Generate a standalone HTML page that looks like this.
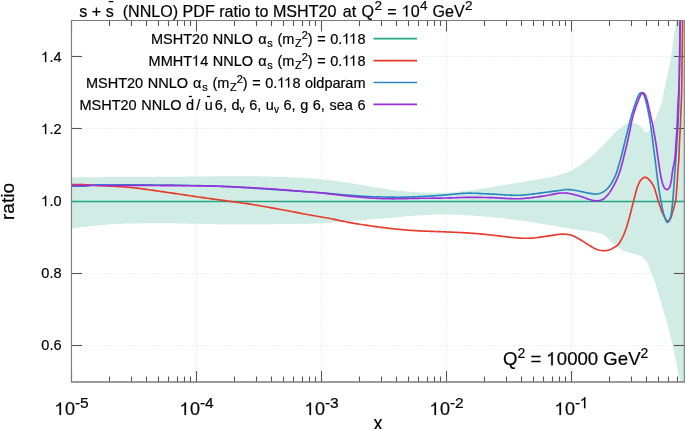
<!DOCTYPE html>
<html><head><meta charset="utf-8"><style>
html,body{margin:0;padding:0;background:#fff;}
svg{display:block;will-change:transform;}
.h1{fill:none;stroke:none;}
text{font-family:"Liberation Sans",sans-serif;fill:#000;stroke:#000;stroke-width:0.2px;}
</style></head><body>
<svg width="685" height="429" viewBox="0 0 685 429">
<defs><clipPath id="clip"><rect x="71.5" y="20.5" width="612.8" height="361.0"/></clipPath></defs>
<g stroke="#dedede" stroke-width="1" stroke-dasharray="1,2"><line x1="196.50" y1="20.5" x2="196.50" y2="381.5"/><line x1="321.50" y1="20.5" x2="321.50" y2="381.5"/><line x1="446.50" y1="20.5" x2="446.50" y2="381.5"/><line x1="571.50" y1="20.5" x2="571.50" y2="381.5"/><line x1="71.5" y1="345.50" x2="684.3" y2="345.50"/><line x1="71.5" y1="273.50" x2="684.3" y2="273.50"/><line x1="71.5" y1="128.50" x2="684.3" y2="128.50"/><line x1="71.5" y1="56.50" x2="684.3" y2="56.50"/></g>
<path d="M71.50,177.30 L72.97,177.29 L74.44,177.28 L75.91,177.27 L77.38,177.26 L78.85,177.25 L80.32,177.24 L81.79,177.23 L83.26,177.23 L84.73,177.22 L86.21,177.21 L87.68,177.20 L89.15,177.19 L90.62,177.18 L92.09,177.17 L93.56,177.16 L95.03,177.15 L96.50,177.14 L97.97,177.13 L99.44,177.12 L100.91,177.11 L102.38,177.10 L103.85,177.09 L105.32,177.08 L106.79,177.07 L108.26,177.07 L109.73,177.06 L111.20,177.05 L112.67,177.04 L114.13,177.03 L115.60,177.02 L117.07,177.02 L118.53,177.01 L120.00,177.00 L121.46,176.99 L122.91,176.99 L124.37,176.98 L125.82,176.97 L127.27,176.97 L128.72,176.96 L130.16,176.96 L131.61,176.95 L133.06,176.95 L134.50,176.94 L135.95,176.94 L137.39,176.93 L138.84,176.93 L140.28,176.92 L141.73,176.92 L143.17,176.91 L144.62,176.91 L146.07,176.90 L147.51,176.90 L148.96,176.89 L150.41,176.89 L151.87,176.88 L153.32,176.88 L154.78,176.87 L156.24,176.87 L157.70,176.86 L159.16,176.85 L160.62,176.84 L162.09,176.84 L163.57,176.83 L165.04,176.82 L166.52,176.81 L168.00,176.80 L169.46,176.79 L170.93,176.78 L172.41,176.77 L173.89,176.75 L175.38,176.74 L176.87,176.72 L178.38,176.71 L179.88,176.69 L181.39,176.68 L182.90,176.66 L184.42,176.64 L185.94,176.63 L187.46,176.61 L188.98,176.59 L190.50,176.57 L192.02,176.55 L193.54,176.54 L195.05,176.52 L196.57,176.50 L198.08,176.48 L199.59,176.47 L201.10,176.45 L202.60,176.43 L204.09,176.42 L205.58,176.40 L207.06,176.39 L208.54,176.38 L210.00,176.36 L211.46,176.35 L212.91,176.34 L214.35,176.33 L215.78,176.32 L217.20,176.31 L218.61,176.31 L220.00,176.30 L221.57,176.29 L223.13,176.29 L224.67,176.28 L226.21,176.28 L227.73,176.27 L229.24,176.27 L230.74,176.26 L232.24,176.26 L233.72,176.25 L235.20,176.25 L236.67,176.25 L238.14,176.24 L239.60,176.24 L241.06,176.24 L242.51,176.25 L243.96,176.25 L245.41,176.25 L246.86,176.26 L248.31,176.27 L249.76,176.28 L251.21,176.29 L252.67,176.30 L254.12,176.32 L255.58,176.33 L257.05,176.35 L258.52,176.38 L260.00,176.40 L261.49,176.43 L263.00,176.46 L264.52,176.49 L266.05,176.52 L267.59,176.55 L269.14,176.59 L270.69,176.63 L272.25,176.66 L273.81,176.71 L275.37,176.75 L276.93,176.79 L278.48,176.84 L280.03,176.89 L281.57,176.93 L283.10,176.98 L284.62,177.04 L286.13,177.09 L287.62,177.14 L289.09,177.20 L290.54,177.26 L291.97,177.32 L293.38,177.38 L294.76,177.44 L296.12,177.50 L297.44,177.57 L298.74,177.63 L300.00,177.70 L301.59,177.79 L303.11,177.87 L304.58,177.96 L306.00,178.05 L307.38,178.14 L308.73,178.23 L310.06,178.32 L311.37,178.42 L312.69,178.53 L314.00,178.64 L315.34,178.75 L316.70,178.88 L318.09,179.01 L319.52,179.15 L321.00,179.30 L322.35,179.44 L323.71,179.59 L325.10,179.75 L326.50,179.91 L327.92,180.08 L329.35,180.25 L330.79,180.43 L332.25,180.62 L333.71,180.81 L335.19,181.00 L336.67,181.20 L338.15,181.40 L339.64,181.61 L341.12,181.81 L342.61,182.02 L344.10,182.24 L345.58,182.45 L347.06,182.67 L348.54,182.88 L350.00,183.10 L351.43,183.32 L352.86,183.54 L354.32,183.77 L355.78,184.01 L357.24,184.25 L358.72,184.50 L360.19,184.75 L361.67,185.01 L363.14,185.26 L364.61,185.52 L366.08,185.77 L367.54,186.03 L368.99,186.28 L370.43,186.53 L371.85,186.77 L373.26,187.01 L374.65,187.25 L376.03,187.47 L377.38,187.69 L378.70,187.90 L380.00,188.10 L381.55,188.33 L383.07,188.56 L384.55,188.78 L386.00,188.99 L387.43,189.20 L388.85,189.40 L390.25,189.60 L391.63,189.78 L393.02,189.97 L394.40,190.14 L395.78,190.32 L397.17,190.48 L398.58,190.64 L400.00,190.80 L401.42,190.95 L402.83,191.10 L404.23,191.24 L405.63,191.38 L407.03,191.51 L408.43,191.63 L409.83,191.75 L411.24,191.86 L412.66,191.97 L414.09,192.07 L415.54,192.16 L417.00,192.25 L418.49,192.33 L420.00,192.40 L421.36,192.46 L422.74,192.51 L424.15,192.56 L425.57,192.61 L427.00,192.65 L428.45,192.69 L429.91,192.72 L431.38,192.75 L432.85,192.77 L434.33,192.78 L435.81,192.79 L437.29,192.78 L438.76,192.78 L440.23,192.76 L441.69,192.73 L443.14,192.70 L444.58,192.65 L446.00,192.60 L447.44,192.53 L448.88,192.46 L450.32,192.37 L451.76,192.27 L453.20,192.16 L454.64,192.04 L456.07,191.92 L457.49,191.79 L458.91,191.65 L460.33,191.50 L461.74,191.35 L463.14,191.20 L464.53,191.04 L465.91,190.89 L467.29,190.72 L468.65,190.56 L470.00,190.40 L471.49,190.22 L472.96,190.03 L474.41,189.83 L475.85,189.63 L477.28,189.42 L478.71,189.21 L480.12,188.99 L481.53,188.77 L482.94,188.55 L484.34,188.32 L485.75,188.09 L487.16,187.86 L488.58,187.63 L490.00,187.40 L491.43,187.16 L492.86,186.92 L494.29,186.68 L495.72,186.42 L497.14,186.17 L498.57,185.91 L500.00,185.66 L501.43,185.40 L502.86,185.14 L504.28,184.89 L505.71,184.63 L507.14,184.38 L508.57,184.14 L510.00,183.90 L511.43,183.67 L512.86,183.44 L514.28,183.22 L515.71,183.00 L517.14,182.78 L518.57,182.56 L520.00,182.35 L521.43,182.14 L522.86,181.92 L524.29,181.70 L525.72,181.48 L527.14,181.26 L528.57,181.03 L530.00,180.80 L531.45,180.56 L532.92,180.32 L534.41,180.08 L535.92,179.84 L537.43,179.59 L538.94,179.34 L540.44,179.10 L541.92,178.84 L543.37,178.59 L544.80,178.34 L546.18,178.08 L547.51,177.82 L548.79,177.56 L550.00,177.30 L551.62,176.93 L553.12,176.56 L554.54,176.19 L555.91,175.81 L557.25,175.42 L558.61,175.02 L560.00,174.60 L561.26,174.22 L562.53,173.84 L563.81,173.45 L565.07,173.05 L566.33,172.63 L567.58,172.19 L568.80,171.71 L570.00,171.20 L571.29,170.59 L572.54,169.95 L573.76,169.28 L574.97,168.57 L576.19,167.83 L577.43,167.04 L578.70,166.20 L579.80,165.45 L580.94,164.65 L582.10,163.80 L583.27,162.92 L584.45,162.01 L585.62,161.10 L586.77,160.19 L587.89,159.30 L588.97,158.43 L590.00,157.60 L591.13,156.68 L592.20,155.80 L593.23,154.94 L594.23,154.08 L595.23,153.20 L596.24,152.28 L597.30,151.30 L598.32,150.32 L599.38,149.26 L600.47,148.15 L601.57,147.01 L602.66,145.87 L603.73,144.74 L604.75,143.65 L605.72,142.63 L606.60,141.70 L607.58,140.66 L608.47,139.72 L609.30,138.83 L610.13,137.94 L611.00,137.00 L611.99,135.90 L612.99,134.75 L614.00,133.60 L615.01,132.50 L616.00,131.50 L616.99,130.59 L617.97,129.78 L618.95,129.00 L620.00,128.20 L621.00,127.43 L622.04,126.63 L623.11,125.84 L624.20,125.12 L625.30,124.50 L626.58,123.92 L627.90,123.43 L629.21,123.05 L630.50,122.80 L631.64,122.66 L632.77,122.61 L633.89,122.68 L635.00,122.90 L636.30,123.39 L637.62,124.09 L638.88,124.92 L640.00,125.80 L640.85,126.67 L641.58,127.62 L642.27,128.59 L643.00,129.50 L643.98,130.73 L644.97,131.92 L646.00,132.50 L647.00,132.23 L648.03,131.46 L649.00,130.50 L649.82,129.46 L650.57,128.22 L651.29,126.87 L652.00,125.50 L652.62,124.30 L653.23,123.07 L653.83,121.80 L654.41,120.51 L655.00,119.20 L655.51,118.02 L656.02,116.82 L656.53,115.59 L657.03,114.37 L657.52,113.17 L658.00,112.00 L658.53,110.77 L659.05,109.57 L659.56,108.38 L660.05,107.20 L660.50,106.00 L660.90,104.83 L661.28,103.69 L661.63,102.52 L661.96,101.31 L662.30,100.00 L662.60,98.71 L662.89,97.33 L663.18,95.90 L663.45,94.42 L663.73,92.93 L664.01,91.45 L664.30,90.00 L664.59,88.58 L664.89,87.17 L665.19,85.76 L665.49,84.35 L665.79,82.92 L666.09,81.48 L666.40,80.00 L666.66,78.71 L666.93,77.40 L667.20,76.06 L667.47,74.71 L667.73,73.36 L668.00,72.00 L668.27,70.65 L668.54,69.32 L668.80,68.00 L669.08,66.62 L669.36,65.29 L669.64,63.97 L669.91,62.66 L670.19,61.33 L670.46,59.95 L670.73,58.52 L671.00,57.00 L671.21,55.71 L671.43,54.36 L671.64,52.96 L671.85,51.52 L672.06,50.05 L672.27,48.55 L672.47,47.03 L672.68,45.51 L672.89,43.98 L673.09,42.46 L673.29,40.95 L673.50,39.46 L673.70,38.00 L673.90,36.59 L674.10,35.15 L674.30,33.71 L674.51,32.25 L674.71,30.80 L674.91,29.36 L675.11,27.93 L675.31,26.52 L675.50,25.14 L675.68,23.79 L675.86,22.48 L676.04,21.21 L676.20,20.00 L676.41,18.42 L676.61,16.93 L676.79,15.51 L676.97,14.13 L677.14,12.77 L677.32,11.40 L677.50,10.00 L700.00,0.00 L700.00,429.00 L681.50,400.00 L681.39,398.51 L681.28,397.00 L681.18,395.48 L681.08,393.96 L680.99,392.44 L680.88,390.93 L680.77,389.43 L680.65,387.95 L680.52,386.50 L680.37,385.08 L680.20,383.70 L680.00,382.31 L679.79,380.98 L679.56,379.70 L679.32,378.43 L679.07,377.18 L678.81,375.92 L678.54,374.63 L678.27,373.29 L678.00,371.90 L677.75,370.60 L677.50,369.27 L677.24,367.90 L676.98,366.52 L676.71,365.11 L676.44,363.69 L676.16,362.25 L675.88,360.80 L675.59,359.35 L675.30,357.90 L675.00,356.44 L674.70,355.00 L674.40,353.60 L674.10,352.18 L673.80,350.76 L673.49,349.34 L673.17,347.90 L672.86,346.47 L672.53,345.03 L672.21,343.59 L671.87,342.14 L671.54,340.70 L671.20,339.26 L670.85,337.83 L670.50,336.40 L670.14,334.96 L669.78,333.52 L669.40,332.08 L669.03,330.64 L668.64,329.20 L668.26,327.75 L667.87,326.32 L667.48,324.88 L667.08,323.45 L666.69,322.03 L666.29,320.61 L665.89,319.20 L665.50,317.80 L665.09,316.36 L664.68,314.93 L664.26,313.51 L663.85,312.10 L663.43,310.70 L663.01,309.30 L662.59,307.90 L662.17,306.50 L661.75,305.10 L661.34,303.71 L660.92,302.31 L660.50,300.90 L660.09,299.49 L659.67,298.06 L659.26,296.63 L658.85,295.19 L658.44,293.76 L658.03,292.33 L657.62,290.90 L657.21,289.49 L656.79,288.08 L656.36,286.70 L655.94,285.34 L655.50,284.00 L655.02,282.56 L654.52,281.12 L654.02,279.69 L653.51,278.28 L653.00,276.89 L652.49,275.52 L651.99,274.18 L651.48,272.88 L650.99,271.62 L650.50,270.40 L649.98,269.06 L649.48,267.76 L649.00,266.51 L648.51,265.30 L647.99,264.14 L647.43,263.04 L646.80,262.00 L645.96,260.81 L645.08,259.69 L644.13,258.66 L643.11,257.73 L642.00,256.90 L640.97,256.29 L639.87,255.79 L638.72,255.36 L637.51,254.98 L636.27,254.60 L635.00,254.20 L633.64,253.80 L632.17,253.43 L630.65,253.09 L629.12,252.73 L627.64,252.36 L626.25,251.96 L625.00,251.50 L623.60,250.81 L622.37,250.05 L621.20,249.27 L620.00,248.50 L618.74,247.78 L617.47,247.09 L616.22,246.35 L615.00,245.50 L613.98,244.62 L613.01,243.65 L612.05,242.61 L611.06,241.55 L610.00,240.50 L609.05,239.59 L608.03,238.59 L606.97,237.57 L605.91,236.57 L604.87,235.66 L603.89,234.88 L603.00,234.30 L602.01,233.86 L601.11,233.64 L600.00,233.40 L598.91,233.15 L597.67,232.88 L596.30,232.61 L594.82,232.34 L593.27,232.06 L591.65,231.78 L590.00,231.50 L588.75,231.30 L587.46,231.10 L586.13,230.91 L584.75,230.72 L583.34,230.53 L581.90,230.34 L580.42,230.14 L578.92,229.94 L577.38,229.73 L575.82,229.52 L574.24,229.29 L572.63,229.05 L571.00,228.80 L569.69,228.59 L568.37,228.37 L567.03,228.14 L565.67,227.90 L564.30,227.66 L562.91,227.41 L561.50,227.15 L560.07,226.89 L558.63,226.62 L557.17,226.35 L555.70,226.08 L554.20,225.81 L552.69,225.53 L551.17,225.26 L549.62,224.98 L548.06,224.71 L546.48,224.44 L544.89,224.17 L543.28,223.91 L541.65,223.65 L540.00,223.40 L538.69,223.20 L537.37,223.00 L536.02,222.80 L534.65,222.60 L533.26,222.40 L531.86,222.19 L530.44,221.99 L529.00,221.78 L527.55,221.57 L526.08,221.37 L524.61,221.16 L523.12,220.95 L521.62,220.75 L520.12,220.54 L518.60,220.34 L517.09,220.14 L515.56,219.94 L514.03,219.74 L512.50,219.54 L510.97,219.34 L509.44,219.15 L507.91,218.96 L506.38,218.78 L504.85,218.59 L503.33,218.41 L501.81,218.24 L500.30,218.07 L498.80,217.90 L497.30,217.74 L495.82,217.58 L494.34,217.43 L492.88,217.28 L491.43,217.14 L490.00,217.00 L488.48,216.86 L486.94,216.72 L485.39,216.59 L483.83,216.46 L482.26,216.33 L480.68,216.21 L479.10,216.08 L477.51,215.97 L475.92,215.85 L474.33,215.74 L472.74,215.63 L471.16,215.53 L469.59,215.43 L468.03,215.33 L466.47,215.24 L464.93,215.15 L463.41,215.07 L461.90,214.99 L460.42,214.91 L458.96,214.84 L457.52,214.78 L456.10,214.72 L454.72,214.66 L453.36,214.61 L452.04,214.56 L450.76,214.52 L449.51,214.48 L448.30,214.45 L447.13,214.42 L446.00,214.40 L444.26,214.38 L442.63,214.37 L441.11,214.39 L439.67,214.41 L438.29,214.45 L436.95,214.49 L435.62,214.55 L434.28,214.61 L432.91,214.67 L431.49,214.73 L430.00,214.80 L428.64,214.86 L427.26,214.92 L425.86,214.99 L424.45,215.06 L423.02,215.14 L421.58,215.22 L420.14,215.31 L418.69,215.40 L417.23,215.49 L415.78,215.58 L414.32,215.68 L412.88,215.79 L411.43,215.89 L410.00,216.00 L408.57,216.11 L407.14,216.24 L405.71,216.37 L404.28,216.50 L402.86,216.64 L401.43,216.78 L400.00,216.93 L398.57,217.07 L397.14,217.21 L395.71,217.36 L394.29,217.50 L392.86,217.64 L391.43,217.77 L390.00,217.90 L388.57,218.02 L387.14,218.14 L385.72,218.26 L384.29,218.38 L382.86,218.49 L381.43,218.60 L380.00,218.71 L378.57,218.82 L377.14,218.93 L375.71,219.04 L374.29,219.16 L372.86,219.27 L371.43,219.38 L370.00,219.50 L368.58,219.62 L367.18,219.74 L365.78,219.86 L364.39,219.98 L363.01,220.10 L361.62,220.22 L360.23,220.34 L358.83,220.46 L357.42,220.59 L355.99,220.71 L354.53,220.83 L353.05,220.95 L351.54,221.08 L350.00,221.20 L348.67,221.31 L347.30,221.41 L345.90,221.53 L344.47,221.64 L343.02,221.76 L341.55,221.88 L340.06,222.00 L338.56,222.11 L337.06,222.23 L335.55,222.35 L334.03,222.46 L332.52,222.57 L331.02,222.68 L329.53,222.79 L328.05,222.89 L326.59,222.98 L325.15,223.07 L323.74,223.16 L322.35,223.23 L321.00,223.30 L319.52,223.37 L318.10,223.43 L316.73,223.48 L315.39,223.52 L314.08,223.56 L312.79,223.59 L311.50,223.62 L310.20,223.64 L308.89,223.67 L307.54,223.69 L306.16,223.71 L304.72,223.73 L303.22,223.75 L301.65,223.77 L300.00,223.80 L298.82,223.82 L297.59,223.84 L296.33,223.86 L295.02,223.88 L293.67,223.90 L292.29,223.92 L290.88,223.94 L289.44,223.96 L287.97,223.97 L286.47,223.99 L284.95,224.01 L283.42,224.03 L281.87,224.05 L280.30,224.06 L278.72,224.08 L277.13,224.10 L275.54,224.11 L273.94,224.13 L272.35,224.15 L270.75,224.16 L269.16,224.18 L267.57,224.19 L265.99,224.20 L264.43,224.21 L262.88,224.23 L261.34,224.24 L259.83,224.25 L258.34,224.26 L256.87,224.27 L255.43,224.28 L254.02,224.28 L252.65,224.29 L251.30,224.30 L250.00,224.30 L248.42,224.30 L246.88,224.31 L245.39,224.31 L243.93,224.31 L242.51,224.32 L241.11,224.32 L239.74,224.32 L238.38,224.32 L237.04,224.31 L235.70,224.31 L234.37,224.31 L233.03,224.30 L231.68,224.29 L230.32,224.29 L228.95,224.28 L227.54,224.27 L226.11,224.26 L224.65,224.24 L223.15,224.23 L221.60,224.22 L220.00,224.20 L218.71,224.19 L217.39,224.17 L216.04,224.15 L214.68,224.13 L213.30,224.10 L211.90,224.08 L210.48,224.05 L209.04,224.02 L207.59,223.99 L206.12,223.96 L204.64,223.93 L203.14,223.90 L201.64,223.87 L200.12,223.83 L198.60,223.80 L197.07,223.77 L195.53,223.73 L193.99,223.70 L192.44,223.66 L190.89,223.63 L189.33,223.60 L187.78,223.57 L186.22,223.54 L184.67,223.51 L183.12,223.48 L181.57,223.45 L180.03,223.42 L178.49,223.40 L176.96,223.38 L175.44,223.36 L173.93,223.34 L172.43,223.33 L170.94,223.32 L169.46,223.31 L168.00,223.30 L166.51,223.30 L165.00,223.29 L163.49,223.29 L161.96,223.28 L160.42,223.28 L158.88,223.28 L157.32,223.28 L155.77,223.28 L154.21,223.28 L152.65,223.28 L151.09,223.29 L149.53,223.29 L147.98,223.30 L146.43,223.30 L144.88,223.31 L143.35,223.32 L141.82,223.33 L140.31,223.35 L138.81,223.36 L137.32,223.38 L135.85,223.40 L134.39,223.42 L132.96,223.44 L131.54,223.47 L130.15,223.50 L128.78,223.52 L127.44,223.56 L126.12,223.59 L124.84,223.63 L123.58,223.67 L122.35,223.71 L121.16,223.75 L120.00,223.80 L118.30,223.88 L116.66,223.96 L115.09,224.06 L113.57,224.15 L112.10,224.26 L110.67,224.37 L109.28,224.48 L107.91,224.59 L106.57,224.71 L105.25,224.83 L103.94,224.95 L102.63,225.06 L101.32,225.18 L100.00,225.30 L98.55,225.43 L97.13,225.56 L95.73,225.69 L94.35,225.83 L92.99,225.96 L91.64,226.10 L90.30,226.24 L88.97,226.38 L87.65,226.52 L86.33,226.66 L85.00,226.80 L83.62,226.95 L82.25,227.10 L80.90,227.24 L79.55,227.39 L78.21,227.55 L76.87,227.70 L75.53,227.85 L74.19,228.00 L72.85,228.15 L71.50,228.30 Z" fill="#d0ece4" stroke="none" clip-path="url(#clip)"/>
<rect x="72" y="21" width="350" height="95" fill="#fff"/>
<g stroke="#555" stroke-width="1.1"><line x1="71.50" y1="382" x2="71.50" y2="371"/><line x1="71.50" y1="20.5" x2="71.50" y2="31.5"/><line x1="109.50" y1="382" x2="109.50" y2="376.5"/><line x1="109.50" y1="20.5" x2="109.50" y2="26.0"/><line x1="131.50" y1="382" x2="131.50" y2="376.5"/><line x1="131.50" y1="20.5" x2="131.50" y2="26.0"/><line x1="146.50" y1="382" x2="146.50" y2="376.5"/><line x1="146.50" y1="20.5" x2="146.50" y2="26.0"/><line x1="158.50" y1="382" x2="158.50" y2="376.5"/><line x1="158.50" y1="20.5" x2="158.50" y2="26.0"/><line x1="168.50" y1="382" x2="168.50" y2="376.5"/><line x1="168.50" y1="20.5" x2="168.50" y2="26.0"/><line x1="177.50" y1="382" x2="177.50" y2="376.5"/><line x1="177.50" y1="20.5" x2="177.50" y2="26.0"/><line x1="184.50" y1="382" x2="184.50" y2="376.5"/><line x1="184.50" y1="20.5" x2="184.50" y2="26.0"/><line x1="190.50" y1="382" x2="190.50" y2="376.5"/><line x1="190.50" y1="20.5" x2="190.50" y2="26.0"/><line x1="196.50" y1="382" x2="196.50" y2="371"/><line x1="196.50" y1="20.5" x2="196.50" y2="31.5"/><line x1="234.50" y1="382" x2="234.50" y2="376.5"/><line x1="234.50" y1="20.5" x2="234.50" y2="26.0"/><line x1="256.50" y1="382" x2="256.50" y2="376.5"/><line x1="256.50" y1="20.5" x2="256.50" y2="26.0"/><line x1="271.50" y1="382" x2="271.50" y2="376.5"/><line x1="271.50" y1="20.5" x2="271.50" y2="26.0"/><line x1="283.50" y1="382" x2="283.50" y2="376.5"/><line x1="283.50" y1="20.5" x2="283.50" y2="26.0"/><line x1="293.50" y1="382" x2="293.50" y2="376.5"/><line x1="293.50" y1="20.5" x2="293.50" y2="26.0"/><line x1="302.50" y1="382" x2="302.50" y2="376.5"/><line x1="302.50" y1="20.5" x2="302.50" y2="26.0"/><line x1="309.50" y1="382" x2="309.50" y2="376.5"/><line x1="309.50" y1="20.5" x2="309.50" y2="26.0"/><line x1="315.50" y1="382" x2="315.50" y2="376.5"/><line x1="315.50" y1="20.5" x2="315.50" y2="26.0"/><line x1="321.50" y1="382" x2="321.50" y2="371"/><line x1="321.50" y1="20.5" x2="321.50" y2="31.5"/><line x1="359.50" y1="382" x2="359.50" y2="376.5"/><line x1="359.50" y1="20.5" x2="359.50" y2="26.0"/><line x1="381.50" y1="382" x2="381.50" y2="376.5"/><line x1="381.50" y1="20.5" x2="381.50" y2="26.0"/><line x1="396.50" y1="382" x2="396.50" y2="376.5"/><line x1="396.50" y1="20.5" x2="396.50" y2="26.0"/><line x1="408.50" y1="382" x2="408.50" y2="376.5"/><line x1="408.50" y1="20.5" x2="408.50" y2="26.0"/><line x1="418.50" y1="382" x2="418.50" y2="376.5"/><line x1="418.50" y1="20.5" x2="418.50" y2="26.0"/><line x1="427.50" y1="382" x2="427.50" y2="376.5"/><line x1="427.50" y1="20.5" x2="427.50" y2="26.0"/><line x1="434.50" y1="382" x2="434.50" y2="376.5"/><line x1="434.50" y1="20.5" x2="434.50" y2="26.0"/><line x1="440.50" y1="382" x2="440.50" y2="376.5"/><line x1="440.50" y1="20.5" x2="440.50" y2="26.0"/><line x1="446.50" y1="382" x2="446.50" y2="371"/><line x1="446.50" y1="20.5" x2="446.50" y2="31.5"/><line x1="484.50" y1="382" x2="484.50" y2="376.5"/><line x1="484.50" y1="20.5" x2="484.50" y2="26.0"/><line x1="506.50" y1="382" x2="506.50" y2="376.5"/><line x1="506.50" y1="20.5" x2="506.50" y2="26.0"/><line x1="521.50" y1="382" x2="521.50" y2="376.5"/><line x1="521.50" y1="20.5" x2="521.50" y2="26.0"/><line x1="533.50" y1="382" x2="533.50" y2="376.5"/><line x1="533.50" y1="20.5" x2="533.50" y2="26.0"/><line x1="543.50" y1="382" x2="543.50" y2="376.5"/><line x1="543.50" y1="20.5" x2="543.50" y2="26.0"/><line x1="552.50" y1="382" x2="552.50" y2="376.5"/><line x1="552.50" y1="20.5" x2="552.50" y2="26.0"/><line x1="559.50" y1="382" x2="559.50" y2="376.5"/><line x1="559.50" y1="20.5" x2="559.50" y2="26.0"/><line x1="565.50" y1="382" x2="565.50" y2="376.5"/><line x1="565.50" y1="20.5" x2="565.50" y2="26.0"/><line x1="571.50" y1="382" x2="571.50" y2="371"/><line x1="571.50" y1="20.5" x2="571.50" y2="31.5"/><line x1="609.50" y1="382" x2="609.50" y2="376.5"/><line x1="609.50" y1="20.5" x2="609.50" y2="26.0"/><line x1="631.50" y1="382" x2="631.50" y2="376.5"/><line x1="631.50" y1="20.5" x2="631.50" y2="26.0"/><line x1="646.50" y1="382" x2="646.50" y2="376.5"/><line x1="646.50" y1="20.5" x2="646.50" y2="26.0"/><line x1="658.50" y1="382" x2="658.50" y2="376.5"/><line x1="658.50" y1="20.5" x2="658.50" y2="26.0"/><line x1="668.50" y1="382" x2="668.50" y2="376.5"/><line x1="668.50" y1="20.5" x2="668.50" y2="26.0"/><line x1="677.50" y1="382" x2="677.50" y2="376.5"/><line x1="677.50" y1="20.5" x2="677.50" y2="26.0"/><line x1="71.5" y1="345.50" x2="82.0" y2="345.50"/><line x1="684.3" y1="345.50" x2="673.8" y2="345.50"/><line x1="71.5" y1="273.50" x2="82.0" y2="273.50"/><line x1="684.3" y1="273.50" x2="673.8" y2="273.50"/><line x1="71.5" y1="201.50" x2="82.0" y2="201.50"/><line x1="684.3" y1="201.50" x2="673.8" y2="201.50"/><line x1="71.5" y1="128.50" x2="82.0" y2="128.50"/><line x1="684.3" y1="128.50" x2="673.8" y2="128.50"/><line x1="71.5" y1="56.50" x2="82.0" y2="56.50"/><line x1="684.3" y1="56.50" x2="673.8" y2="56.50"/></g>
<g fill="none" stroke-width="1.65" stroke-linejoin="round" clip-path="url(#clip)">
<line x1="71.5" y1="201.5" x2="684.3" y2="201.5" stroke="#23a783" stroke-width="1.5"/>
<path d="M71.50,184.60 L72.88,184.61 L74.28,184.62 L75.69,184.63 L77.10,184.64 L78.51,184.64 L79.91,184.65 L81.31,184.66 L82.70,184.67 L84.06,184.69 L85.40,184.72 L86.72,184.76 L88.00,184.80 L89.39,184.86 L90.69,184.93 L91.94,185.01 L93.17,185.10 L94.40,185.19 L95.67,185.29 L97.01,185.39 L98.44,185.50 L100.00,185.60 L101.13,185.67 L102.32,185.74 L103.55,185.80 L104.82,185.86 L106.14,185.93 L107.49,185.99 L108.87,186.06 L110.29,186.12 L111.73,186.19 L113.20,186.26 L114.69,186.34 L116.19,186.42 L117.71,186.50 L119.25,186.59 L120.79,186.68 L122.33,186.78 L123.87,186.89 L125.42,187.00 L126.95,187.13 L128.48,187.26 L130.00,187.40 L131.39,187.54 L132.79,187.69 L134.21,187.84 L135.64,188.01 L137.08,188.18 L138.54,188.35 L140.00,188.54 L141.48,188.73 L142.96,188.92 L144.45,189.12 L145.94,189.33 L147.44,189.54 L148.93,189.75 L150.43,189.96 L151.93,190.17 L153.43,190.39 L154.92,190.61 L156.41,190.82 L157.89,191.04 L159.37,191.26 L160.83,191.47 L162.29,191.68 L163.74,191.89 L165.17,192.10 L166.59,192.30 L168.00,192.50 L169.51,192.71 L171.02,192.93 L172.52,193.15 L174.02,193.36 L175.51,193.58 L176.99,193.80 L178.47,194.02 L179.94,194.23 L181.41,194.45 L182.87,194.67 L184.32,194.89 L185.77,195.11 L187.21,195.32 L188.65,195.54 L190.09,195.75 L191.52,195.96 L192.94,196.17 L194.36,196.38 L195.78,196.59 L197.19,196.80 L198.60,197.00 L200.00,197.20 L201.50,197.41 L203.00,197.62 L204.50,197.83 L205.99,198.04 L207.48,198.25 L208.96,198.45 L210.44,198.66 L211.91,198.86 L213.38,199.06 L214.83,199.26 L216.29,199.45 L217.73,199.65 L219.17,199.85 L220.59,200.04 L222.01,200.23 L223.42,200.43 L224.83,200.62 L226.22,200.81 L227.60,201.00 L229.05,201.20 L230.47,201.39 L231.85,201.57 L233.22,201.75 L234.56,201.93 L235.89,202.10 L237.22,202.28 L238.55,202.45 L239.89,202.63 L241.24,202.81 L242.61,203.00 L244.01,203.20 L245.44,203.41 L246.91,203.62 L248.43,203.86 L250.00,204.10 L251.25,204.30 L252.54,204.51 L253.87,204.73 L255.23,204.96 L256.63,205.19 L258.06,205.43 L259.52,205.69 L261.00,205.94 L262.49,206.20 L264.01,206.47 L265.53,206.74 L267.07,207.01 L268.60,207.29 L270.15,207.57 L271.69,207.84 L273.22,208.12 L274.75,208.40 L276.26,208.68 L277.76,208.95 L279.24,209.22 L280.70,209.49 L282.13,209.75 L283.54,210.01 L284.91,210.26 L286.24,210.51 L287.54,210.75 L288.79,210.98 L290.00,211.20 L291.64,211.50 L293.22,211.80 L294.74,212.09 L296.22,212.37 L297.65,212.64 L299.05,212.92 L300.43,213.18 L301.79,213.45 L303.14,213.71 L304.48,213.97 L305.84,214.22 L307.20,214.48 L308.59,214.74 L310.00,215.00 L311.43,215.26 L312.86,215.51 L314.28,215.76 L315.71,216.00 L317.14,216.25 L318.57,216.49 L320.00,216.73 L321.43,216.97 L322.86,217.22 L324.29,217.47 L325.72,217.72 L327.15,217.97 L328.57,218.23 L330.00,218.50 L331.43,218.78 L332.86,219.06 L334.29,219.36 L335.72,219.65 L337.14,219.96 L338.57,220.26 L340.00,220.57 L341.43,220.87 L342.85,221.18 L344.28,221.48 L345.71,221.77 L347.14,222.06 L348.57,222.33 L350.00,222.60 L351.43,222.86 L352.85,223.11 L354.28,223.35 L355.71,223.60 L357.14,223.83 L358.56,224.06 L359.99,224.29 L361.42,224.52 L362.85,224.74 L364.28,224.95 L365.71,225.17 L367.14,225.38 L368.57,225.59 L370.00,225.80 L371.43,226.01 L372.88,226.21 L374.33,226.41 L375.79,226.61 L377.26,226.81 L378.72,227.00 L380.17,227.20 L381.63,227.38 L383.07,227.56 L384.49,227.74 L385.90,227.91 L387.29,228.08 L388.66,228.24 L390.00,228.40 L391.44,228.56 L392.84,228.72 L394.22,228.87 L395.57,229.02 L396.91,229.15 L398.24,229.29 L399.56,229.42 L400.90,229.54 L402.24,229.66 L403.61,229.78 L405.00,229.90 L406.37,230.01 L407.74,230.12 L409.10,230.22 L410.48,230.32 L411.86,230.41 L413.25,230.50 L414.65,230.59 L416.08,230.68 L417.52,230.76 L418.98,230.84 L420.48,230.92 L422.00,231.00 L423.30,231.06 L424.63,231.12 L425.99,231.18 L427.36,231.24 L428.76,231.29 L430.16,231.34 L431.59,231.39 L433.02,231.44 L434.46,231.48 L435.91,231.53 L437.36,231.58 L438.82,231.63 L440.27,231.68 L441.71,231.73 L443.15,231.78 L444.58,231.84 L446.00,231.90 L447.42,231.96 L448.84,232.02 L450.26,232.08 L451.69,232.14 L453.13,232.21 L454.56,232.27 L455.99,232.33 L457.42,232.40 L458.85,232.46 L460.28,232.53 L461.69,232.61 L463.10,232.68 L464.51,232.76 L465.90,232.84 L467.28,232.92 L468.65,233.01 L470.00,233.10 L471.49,233.21 L472.95,233.32 L474.41,233.43 L475.85,233.55 L477.28,233.67 L478.70,233.80 L480.12,233.93 L481.53,234.06 L482.93,234.19 L484.34,234.33 L485.75,234.47 L487.16,234.61 L488.58,234.75 L490.00,234.90 L491.44,235.05 L492.90,235.21 L494.38,235.38 L495.86,235.55 L497.35,235.73 L498.84,235.91 L500.32,236.09 L501.78,236.27 L503.23,236.44 L504.66,236.61 L506.05,236.77 L507.41,236.93 L508.73,237.07 L510.00,237.20 L511.47,237.35 L512.89,237.49 L514.26,237.63 L515.60,237.75 L516.91,237.87 L518.19,237.98 L519.46,238.07 L520.73,238.14 L522.00,238.20 L523.48,238.25 L524.92,238.27 L526.35,238.28 L527.76,238.27 L529.17,238.24 L530.58,238.18 L532.00,238.10 L533.41,237.99 L534.78,237.86 L536.14,237.70 L537.51,237.52 L538.93,237.32 L540.42,237.11 L542.00,236.90 L543.24,236.73 L544.59,236.53 L546.02,236.31 L547.52,236.08 L549.05,235.84 L550.59,235.59 L552.14,235.35 L553.65,235.12 L555.11,234.90 L556.50,234.71 L557.79,234.54 L558.97,234.40 L560.00,234.30 L561.45,234.19 L562.66,234.14 L563.79,234.14 L565.00,234.20 L566.15,234.28 L567.32,234.38 L568.51,234.53 L569.74,234.76 L571.00,235.10 L572.21,235.53 L573.46,236.05 L574.75,236.66 L576.05,237.33 L577.37,238.04 L578.69,238.77 L580.00,239.50 L581.25,240.23 L582.52,241.01 L583.80,241.83 L585.08,242.67 L586.36,243.51 L587.61,244.33 L588.82,245.10 L590.00,245.80 L591.22,246.52 L592.39,247.22 L593.53,247.89 L594.67,248.50 L595.82,249.04 L597.00,249.50 L598.42,249.93 L599.88,250.27 L601.35,250.51 L602.80,250.66 L604.20,250.70 L605.73,250.60 L607.22,250.37 L608.66,250.02 L610.00,249.60 L611.08,249.16 L612.08,248.65 L613.04,248.08 L614.00,247.50 L614.98,246.93 L615.95,246.36 L616.89,245.71 L617.80,244.90 L618.56,244.03 L619.29,243.04 L620.00,241.94 L620.69,240.78 L621.36,239.59 L622.00,238.40 L622.57,237.29 L623.11,236.16 L623.63,235.00 L624.14,233.81 L624.63,232.58 L625.12,231.31 L625.60,230.00 L626.05,228.73 L626.48,227.42 L626.91,226.07 L627.33,224.68 L627.75,223.27 L628.16,221.83 L628.57,220.37 L628.98,218.89 L629.40,217.40 L629.75,216.11 L630.10,214.79 L630.45,213.44 L630.80,212.07 L631.15,210.69 L631.50,209.29 L631.84,207.89 L632.19,206.49 L632.54,205.10 L632.89,203.71 L633.24,202.35 L633.60,201.00 L633.97,199.58 L634.34,198.14 L634.71,196.67 L635.09,195.20 L635.46,193.75 L635.83,192.31 L636.21,190.92 L636.60,189.58 L636.99,188.30 L637.39,187.10 L637.80,186.00 L638.39,184.51 L638.97,183.14 L639.57,181.89 L640.24,180.78 L641.00,179.80 L641.94,178.86 L642.97,178.03 L644.05,177.43 L645.10,177.20 L646.09,177.41 L647.08,177.96 L648.05,178.73 L649.00,179.60 L649.80,180.41 L650.58,181.33 L651.35,182.35 L652.09,183.47 L652.81,184.69 L653.50,186.00 L654.01,187.11 L654.48,188.32 L654.94,189.62 L655.37,190.99 L655.79,192.41 L656.21,193.87 L656.62,195.34 L657.03,196.80 L657.44,198.25 L657.86,199.65 L658.30,201.00 L658.76,202.36 L659.20,203.73 L659.65,205.10 L660.10,206.47 L660.55,207.82 L661.01,209.14 L661.48,210.43 L661.97,211.68 L662.47,212.87 L663.00,214.00 L663.76,215.56 L664.58,217.21 L665.42,218.78 L666.26,220.13 L667.06,221.08 L667.80,221.50 L668.96,220.91 L670.00,219.50 L670.58,218.43 L671.09,217.13 L671.57,215.66 L672.03,214.09 L672.50,212.50 L672.89,211.22 L673.30,209.88 L673.71,208.50 L674.11,207.07 L674.50,205.60 L674.87,204.09 L675.20,202.56 L675.50,201.00 L675.72,199.65 L675.91,198.26 L676.08,196.83 L676.22,195.37 L676.35,193.89 L676.47,192.40 L676.58,190.90 L676.68,189.40 L676.79,187.92 L676.89,186.45 L677.00,185.00 L677.11,183.61 L677.21,182.20 L677.31,180.79 L677.40,179.38 L677.49,177.98 L677.57,176.59 L677.66,175.21 L677.74,173.86 L677.83,172.54 L677.91,171.25 L678.00,170.00 L678.12,168.50 L678.24,167.10 L678.35,165.75 L678.47,164.42 L678.59,163.05 L678.70,161.59 L678.80,160.00 L678.87,158.77 L678.93,157.44 L679.00,156.05 L679.06,154.59 L679.11,153.08 L679.17,151.55 L679.22,150.00 L679.27,148.45 L679.33,146.92 L679.38,145.41 L679.43,143.96 L679.49,142.56 L679.54,141.23 L679.60,140.00 L679.68,138.42 L679.77,136.99 L679.86,135.65 L679.94,134.35 L680.03,133.01 L680.12,131.58 L680.20,130.00 L680.26,128.77 L680.32,127.44 L680.38,126.04 L680.44,124.59 L680.50,123.08 L680.56,121.55 L680.62,120.00 L680.68,118.45 L680.74,116.92 L680.79,115.41 L680.85,113.96 L680.90,112.56 L680.95,111.23 L681.00,110.00 L681.07,108.39 L681.13,106.89 L681.19,105.47 L681.24,104.11 L681.30,102.76 L681.35,101.40 L681.40,100.00 L681.45,98.62 L681.49,97.30 L681.54,96.00 L681.58,94.66 L681.62,93.25 L681.66,91.71 L681.70,90.00 L681.72,88.92 L681.74,87.79 L681.77,86.60 L681.79,85.35 L681.81,84.06 L681.83,82.73 L681.85,81.35 L681.87,79.94 L681.88,78.49 L681.90,77.02 L681.92,75.52 L681.94,74.00 L681.96,72.47 L681.98,70.91 L681.99,69.35 L682.01,67.79 L682.03,66.22 L682.05,64.65 L682.06,63.09 L682.08,61.54 L682.10,60.00 L682.12,58.61 L682.13,57.18 L682.15,55.73 L682.17,54.25 L682.18,52.75 L682.20,51.23 L682.22,49.70 L682.23,48.15 L682.25,46.58 L682.27,45.01 L682.28,43.44 L682.30,41.86 L682.32,40.29 L682.33,38.72 L682.35,37.15 L682.36,35.60 L682.38,34.06 L682.39,32.53 L682.41,31.02 L682.42,29.54 L682.43,28.08 L682.45,26.64 L682.46,25.24 L682.47,23.87 L682.48,22.54 L682.49,21.25 L682.50,20.00 L682.51,18.36 L682.52,16.78 L682.53,15.26 L682.54,13.79 L682.55,12.35 L682.55,10.95 L682.56,9.57 L682.57,8.21 L682.57,6.86 L682.58,5.51 L682.58,4.16 L682.59,2.80 L682.59,1.41 L682.60,0.00" stroke="#e63a2c"/>
<path d="M71.50,186.20 L72.98,186.19 L74.50,186.18 L76.05,186.19 L77.60,186.19 L79.15,186.19 L80.66,186.18 L82.12,186.17 L83.51,186.13 L84.81,186.08 L86.00,186.00 L87.30,185.85 L88.38,185.66 L89.41,185.45 L90.56,185.26 L92.00,185.10 L92.98,185.03 L94.04,184.98 L95.19,184.93 L96.41,184.90 L97.70,184.87 L99.06,184.85 L100.48,184.84 L101.95,184.83 L103.47,184.83 L105.03,184.84 L106.62,184.84 L108.25,184.85 L109.90,184.86 L111.57,184.87 L113.25,184.88 L114.94,184.89 L116.63,184.90 L118.32,184.90 L120.00,184.90 L121.27,184.90 L122.56,184.90 L123.87,184.90 L125.20,184.89 L126.55,184.89 L127.92,184.89 L129.30,184.89 L130.70,184.89 L132.11,184.89 L133.54,184.89 L134.98,184.89 L136.43,184.89 L137.89,184.90 L139.36,184.90 L140.84,184.90 L142.33,184.91 L143.83,184.91 L145.33,184.92 L146.84,184.92 L148.35,184.93 L149.86,184.94 L151.38,184.94 L152.90,184.95 L154.42,184.96 L155.94,184.97 L157.46,184.99 L158.98,185.00 L160.50,185.01 L162.01,185.03 L163.52,185.04 L165.02,185.06 L166.51,185.08 L168.00,185.10 L169.46,185.12 L170.92,185.14 L172.39,185.16 L173.86,185.18 L175.33,185.20 L176.81,185.22 L178.28,185.25 L179.77,185.27 L181.25,185.29 L182.74,185.31 L184.23,185.34 L185.72,185.36 L187.21,185.39 L188.70,185.42 L190.20,185.45 L191.69,185.47 L193.19,185.50 L194.69,185.54 L196.18,185.57 L197.68,185.60 L199.18,185.64 L200.67,185.67 L202.17,185.71 L203.67,185.75 L205.16,185.79 L206.65,185.83 L208.14,185.88 L209.63,185.92 L211.12,185.97 L212.61,186.02 L214.09,186.07 L215.57,186.13 L217.05,186.18 L218.53,186.24 L220.00,186.30 L221.48,186.36 L222.97,186.43 L224.45,186.50 L225.93,186.57 L227.40,186.64 L228.88,186.72 L230.35,186.79 L231.82,186.87 L233.30,186.95 L234.77,187.04 L236.23,187.12 L237.70,187.21 L239.17,187.29 L240.64,187.38 L242.10,187.47 L243.57,187.57 L245.03,187.66 L246.50,187.75 L247.96,187.85 L249.43,187.94 L250.89,188.04 L252.36,188.13 L253.82,188.23 L255.29,188.33 L256.76,188.43 L258.22,188.52 L259.69,188.62 L261.16,188.72 L262.63,188.82 L264.10,188.91 L265.57,189.01 L267.05,189.11 L268.52,189.20 L270.00,189.30 L271.46,189.39 L272.92,189.49 L274.40,189.58 L275.89,189.68 L277.39,189.78 L278.89,189.87 L280.40,189.97 L281.91,190.07 L283.43,190.17 L284.95,190.27 L286.48,190.37 L288.00,190.47 L289.53,190.57 L291.05,190.68 L292.57,190.78 L294.09,190.88 L295.61,190.98 L297.12,191.09 L298.62,191.19 L300.12,191.29 L301.61,191.39 L303.09,191.50 L304.56,191.60 L306.01,191.70 L307.46,191.80 L308.89,191.90 L310.31,192.00 L311.71,192.11 L313.09,192.21 L314.46,192.31 L315.81,192.41 L317.14,192.51 L318.45,192.60 L319.74,192.70 L321.00,192.80 L322.64,192.93 L324.25,193.06 L325.84,193.19 L327.41,193.32 L328.95,193.46 L330.47,193.59 L331.97,193.72 L333.44,193.86 L334.90,193.99 L336.34,194.12 L337.77,194.25 L339.18,194.38 L340.57,194.51 L341.95,194.63 L343.32,194.75 L344.67,194.87 L346.02,194.98 L347.35,195.09 L348.68,195.20 L350.00,195.30 L351.53,195.42 L353.02,195.53 L354.46,195.64 L355.86,195.74 L357.25,195.85 L358.62,195.94 L359.98,196.04 L361.34,196.13 L362.71,196.22 L364.10,196.30 L365.51,196.38 L366.96,196.46 L368.46,196.53 L370.00,196.60 L371.30,196.65 L372.64,196.71 L374.02,196.76 L375.42,196.80 L376.85,196.85 L378.30,196.89 L379.77,196.94 L381.26,196.97 L382.75,197.01 L384.25,197.04 L385.75,197.08 L387.25,197.10 L388.74,197.13 L390.22,197.15 L391.69,197.17 L393.14,197.18 L394.57,197.19 L395.98,197.20 L397.35,197.20 L398.70,197.20 L400.00,197.20 L401.55,197.19 L403.05,197.17 L404.51,197.15 L405.93,197.12 L407.33,197.09 L408.72,197.06 L410.09,197.01 L411.46,196.97 L412.83,196.92 L414.21,196.86 L415.62,196.80 L417.04,196.74 L418.50,196.67 L420.00,196.60 L421.36,196.53 L422.76,196.46 L424.17,196.38 L425.60,196.30 L427.05,196.21 L428.52,196.12 L429.99,196.03 L431.48,195.93 L432.96,195.83 L434.45,195.73 L435.93,195.63 L437.41,195.52 L438.89,195.42 L440.34,195.31 L441.79,195.21 L443.21,195.10 L444.62,195.00 L446.00,194.90 L447.46,194.79 L448.91,194.66 L450.33,194.53 L451.74,194.40 L453.13,194.26 L454.52,194.12 L455.89,193.98 L457.27,193.84 L458.64,193.71 L460.01,193.59 L461.39,193.48 L462.77,193.39 L464.17,193.31 L465.58,193.24 L467.00,193.20 L468.40,193.18 L469.80,193.17 L471.20,193.18 L472.60,193.21 L474.01,193.25 L475.41,193.30 L476.82,193.36 L478.24,193.42 L479.67,193.49 L481.10,193.57 L482.55,193.64 L484.01,193.72 L485.48,193.80 L486.97,193.87 L488.48,193.94 L490.00,194.00 L491.35,194.06 L492.71,194.12 L494.10,194.19 L495.51,194.27 L496.93,194.36 L498.36,194.45 L499.81,194.54 L501.26,194.63 L502.73,194.73 L504.19,194.82 L505.66,194.90 L507.13,194.98 L508.60,195.05 L510.06,195.12 L511.52,195.17 L512.97,195.22 L514.40,195.24 L515.83,195.26 L517.24,195.26 L518.63,195.24 L520.00,195.20 L521.54,195.13 L523.09,195.04 L524.63,194.93 L526.18,194.79 L527.72,194.64 L529.25,194.48 L530.78,194.30 L532.29,194.11 L533.79,193.92 L535.28,193.72 L536.74,193.52 L538.19,193.32 L539.61,193.12 L541.00,192.93 L542.37,192.74 L543.70,192.56 L545.00,192.40 L546.53,192.21 L548.02,192.02 L549.49,191.82 L550.93,191.62 L552.34,191.43 L553.71,191.24 L555.05,191.06 L556.35,190.88 L557.61,190.71 L558.83,190.55 L560.00,190.40 L561.46,190.20 L562.79,189.99 L564.06,189.79 L565.31,189.63 L566.60,189.52 L568.00,189.50 L569.23,189.56 L570.53,189.68 L571.86,189.84 L573.23,190.05 L574.61,190.29 L576.00,190.54 L577.36,190.80 L578.70,191.06 L580.00,191.30 L581.49,191.59 L582.98,191.91 L584.44,192.25 L585.88,192.58 L587.30,192.90 L588.67,193.18 L590.00,193.40 L591.49,193.63 L592.92,193.85 L594.31,194.01 L595.66,194.07 L597.00,194.00 L598.26,193.79 L599.49,193.47 L600.70,193.06 L601.88,192.57 L603.00,192.00 L604.08,191.36 L605.11,190.65 L606.10,189.85 L607.06,188.97 L608.00,188.00 L608.78,187.08 L609.55,186.07 L610.30,184.98 L611.03,183.86 L611.73,182.71 L612.39,181.59 L613.00,180.50 L613.70,179.20 L614.33,177.92 L614.92,176.64 L615.47,175.34 L616.00,174.00 L616.44,172.81 L616.85,171.61 L617.24,170.39 L617.62,169.14 L618.00,167.84 L618.40,166.50 L618.78,165.23 L619.16,163.92 L619.55,162.57 L619.94,161.19 L620.34,159.79 L620.73,158.37 L621.12,156.94 L621.50,155.50 L621.86,154.10 L622.23,152.67 L622.59,151.21 L622.94,149.75 L623.30,148.27 L623.65,146.80 L624.00,145.35 L624.35,143.91 L624.70,142.50 L625.06,141.06 L625.41,139.64 L625.76,138.24 L626.11,136.85 L626.46,135.47 L626.80,134.08 L627.15,132.70 L627.50,131.30 L627.85,129.88 L628.19,128.46 L628.54,127.03 L628.88,125.61 L629.23,124.19 L629.58,122.77 L629.94,121.38 L630.30,120.00 L630.70,118.53 L631.10,117.08 L631.51,115.64 L631.93,114.21 L632.35,112.80 L632.77,111.39 L633.20,110.00 L633.62,108.67 L634.04,107.33 L634.47,105.99 L634.90,104.68 L635.34,103.40 L635.77,102.17 L636.20,101.00 L636.67,99.73 L637.13,98.50 L637.59,97.33 L638.08,96.26 L638.60,95.30 L639.29,94.18 L640.02,93.22 L640.80,92.70 L641.91,92.85 L643.00,93.60 L643.58,94.40 L644.09,95.47 L644.54,96.74 L644.97,98.11 L645.40,99.50 L645.75,100.66 L646.09,101.91 L646.41,103.21 L646.73,104.56 L647.03,105.94 L647.33,107.31 L647.62,108.68 L647.90,110.00 L648.21,111.47 L648.51,112.97 L648.80,114.48 L649.08,115.96 L649.34,117.40 L649.58,118.75 L649.80,120.00 L650.03,121.33 L650.22,122.50 L650.40,123.67 L650.60,125.00 L650.79,126.25 L650.98,127.61 L651.19,129.04 L651.40,130.53 L651.61,132.04 L651.81,133.54 L652.00,135.00 L652.18,136.43 L652.35,137.86 L652.52,139.29 L652.69,140.71 L652.86,142.14 L653.03,143.57 L653.20,145.00 L653.38,146.43 L653.56,147.86 L653.75,149.29 L653.94,150.71 L654.13,152.14 L654.31,153.57 L654.50,155.00 L654.69,156.43 L654.87,157.86 L655.06,159.29 L655.25,160.71 L655.44,162.14 L655.62,163.57 L655.80,165.00 L655.98,166.43 L656.15,167.86 L656.32,169.29 L656.48,170.71 L656.65,172.14 L656.82,173.57 L657.00,175.00 L657.18,176.44 L657.36,177.89 L657.55,179.35 L657.73,180.79 L657.92,182.23 L658.11,183.63 L658.30,185.00 L658.49,186.39 L658.69,187.73 L658.88,189.06 L659.08,190.37 L659.28,191.68 L659.50,193.00 L659.73,194.31 L659.95,195.59 L660.19,196.86 L660.44,198.17 L660.71,199.54 L661.00,201.00 L661.25,202.27 L661.50,203.63 L661.76,205.07 L662.03,206.56 L662.32,208.06 L662.62,209.57 L662.93,211.04 L663.27,212.45 L663.62,213.78 L664.00,215.00 L664.51,216.54 L665.06,218.16 L665.64,219.70 L666.23,221.01 L666.82,221.93 L667.40,222.30 L668.08,221.95 L668.78,220.99 L669.44,219.74 L670.00,218.50 L670.42,217.36 L670.75,216.14 L671.02,214.83 L671.26,213.45 L671.50,212.00 L671.69,210.78 L671.86,209.51 L672.02,208.18 L672.16,206.81 L672.29,205.41 L672.43,203.97 L672.56,202.49 L672.70,201.00 L672.83,199.66 L672.95,198.27 L673.07,196.84 L673.20,195.38 L673.32,193.90 L673.44,192.41 L673.55,190.91 L673.67,189.41 L673.78,187.92 L673.89,186.45 L674.00,185.00 L674.10,183.61 L674.20,182.20 L674.29,180.79 L674.38,179.38 L674.47,177.98 L674.56,176.59 L674.65,175.21 L674.74,173.86 L674.82,172.54 L674.91,171.25 L675.00,170.00 L675.11,168.50 L675.23,167.10 L675.34,165.75 L675.46,164.42 L675.57,163.05 L675.68,161.59 L675.80,160.00 L675.88,158.78 L675.97,157.48 L676.05,156.12 L676.14,154.70 L676.22,153.25 L676.31,151.76 L676.40,150.25 L676.48,148.73 L676.57,147.21 L676.66,145.71 L676.74,144.22 L676.83,142.77 L676.92,141.36 L677.00,140.00 L677.09,138.56 L677.19,137.14 L677.29,135.75 L677.38,134.39 L677.48,133.04 L677.57,131.70 L677.67,130.36 L677.76,129.03 L677.84,127.70 L677.92,126.36 L678.00,125.00 L678.07,123.64 L678.13,122.30 L678.19,120.97 L678.25,119.64 L678.30,118.30 L678.35,116.96 L678.40,115.61 L678.45,114.25 L678.50,112.86 L678.55,111.44 L678.60,110.00 L678.65,108.67 L678.69,107.33 L678.74,105.98 L678.79,104.61 L678.83,103.24 L678.88,101.84 L678.92,100.43 L678.97,99.01 L679.01,97.56 L679.05,96.09 L679.09,94.61 L679.13,93.09 L679.16,91.56 L679.20,90.00 L679.23,88.71 L679.25,87.40 L679.28,86.07 L679.30,84.73 L679.32,83.37 L679.34,82.00 L679.36,80.61 L679.38,79.21 L679.40,77.79 L679.42,76.37 L679.43,74.93 L679.45,73.48 L679.47,72.02 L679.48,70.54 L679.50,69.06 L679.52,67.57 L679.53,66.07 L679.55,64.56 L679.57,63.05 L679.58,61.53 L679.60,60.00 L679.62,58.61 L679.63,57.18 L679.65,55.73 L679.67,54.25 L679.68,52.75 L679.70,51.23 L679.72,49.70 L679.73,48.15 L679.75,46.58 L679.77,45.01 L679.78,43.44 L679.80,41.86 L679.82,40.29 L679.83,38.72 L679.85,37.15 L679.86,35.60 L679.88,34.06 L679.89,32.53 L679.91,31.02 L679.92,29.54 L679.93,28.08 L679.95,26.64 L679.96,25.24 L679.97,23.87 L679.98,22.54 L679.99,21.25 L680.00,20.00 L680.01,18.36 L680.02,16.78 L680.03,15.26 L680.04,13.79 L680.05,12.35 L680.05,10.95 L680.06,9.57 L680.07,8.21 L680.07,6.86 L680.08,5.51 L680.08,4.16 L680.09,2.80 L680.09,1.41 L680.10,0.00" stroke="#2a87c2"/>
<path d="M71.50,185.50 L72.97,185.50 L74.44,185.50 L75.91,185.50 L77.38,185.50 L78.85,185.50 L80.32,185.50 L81.79,185.50 L83.26,185.50 L84.73,185.50 L86.21,185.50 L87.68,185.50 L89.15,185.50 L90.62,185.50 L92.09,185.49 L93.56,185.49 L95.03,185.49 L96.50,185.49 L97.97,185.49 L99.44,185.49 L100.91,185.49 L102.38,185.49 L103.85,185.49 L105.32,185.49 L106.79,185.49 L108.26,185.49 L109.73,185.49 L111.20,185.49 L112.67,185.49 L114.13,185.50 L115.60,185.50 L117.07,185.50 L118.53,185.50 L120.00,185.50 L121.46,185.50 L122.91,185.50 L124.37,185.50 L125.82,185.50 L127.27,185.50 L128.72,185.50 L130.16,185.50 L131.61,185.50 L133.06,185.50 L134.50,185.51 L135.95,185.51 L137.39,185.51 L138.84,185.51 L140.28,185.51 L141.73,185.51 L143.17,185.51 L144.62,185.51 L146.07,185.51 L147.51,185.51 L148.96,185.52 L150.41,185.52 L151.87,185.52 L153.32,185.53 L154.78,185.53 L156.24,185.53 L157.70,185.54 L159.16,185.55 L160.63,185.55 L162.09,185.56 L163.57,185.57 L165.04,185.58 L166.52,185.59 L168.00,185.60 L169.46,185.61 L170.92,185.62 L172.39,185.63 L173.86,185.64 L175.33,185.65 L176.80,185.66 L178.28,185.67 L179.77,185.68 L181.25,185.69 L182.74,185.70 L184.22,185.71 L185.72,185.72 L187.21,185.73 L188.70,185.75 L190.20,185.76 L191.69,185.77 L193.19,185.79 L194.68,185.80 L196.18,185.82 L197.68,185.84 L199.18,185.86 L200.67,185.88 L202.17,185.90 L203.66,185.92 L205.16,185.95 L206.65,185.97 L208.14,186.00 L209.63,186.03 L211.12,186.06 L212.61,186.10 L214.09,186.13 L215.57,186.17 L217.05,186.21 L218.53,186.25 L220.00,186.30 L221.49,186.35 L222.99,186.40 L224.49,186.45 L226.01,186.51 L227.52,186.57 L229.05,186.63 L230.57,186.69 L232.10,186.75 L233.64,186.82 L235.17,186.88 L236.70,186.95 L238.24,187.02 L239.77,187.09 L241.30,187.17 L242.82,187.24 L244.34,187.32 L245.86,187.40 L247.37,187.47 L248.87,187.55 L250.37,187.63 L251.86,187.71 L253.33,187.80 L254.80,187.88 L256.26,187.96 L257.70,188.04 L259.13,188.13 L260.55,188.21 L261.95,188.30 L263.34,188.38 L264.71,188.46 L266.06,188.55 L267.39,188.63 L268.71,188.72 L270.00,188.80 L271.60,188.91 L273.18,189.01 L274.73,189.13 L276.27,189.24 L277.79,189.35 L279.29,189.47 L280.76,189.58 L282.23,189.70 L283.67,189.82 L285.10,189.94 L286.52,190.06 L287.92,190.18 L289.30,190.30 L290.68,190.41 L292.04,190.53 L293.39,190.65 L294.73,190.76 L296.06,190.87 L297.38,190.99 L298.69,191.09 L300.00,191.20 L301.50,191.32 L302.96,191.43 L304.39,191.54 L305.78,191.65 L307.15,191.75 L308.51,191.85 L309.85,191.95 L311.20,192.06 L312.54,192.16 L313.89,192.27 L315.26,192.38 L316.65,192.50 L318.06,192.62 L319.51,192.76 L321.00,192.90 L322.34,193.03 L323.70,193.18 L325.07,193.33 L326.46,193.49 L327.86,193.65 L329.27,193.82 L330.70,193.99 L332.13,194.17 L333.58,194.34 L335.04,194.52 L336.50,194.70 L337.98,194.88 L339.46,195.06 L340.95,195.24 L342.45,195.41 L343.95,195.58 L345.45,195.74 L346.97,195.90 L348.48,196.06 L350.00,196.20 L351.39,196.33 L352.80,196.46 L354.21,196.59 L355.64,196.72 L357.07,196.85 L358.51,196.98 L359.96,197.10 L361.42,197.23 L362.88,197.35 L364.34,197.47 L365.81,197.59 L367.29,197.70 L368.76,197.82 L370.24,197.92 L371.72,198.03 L373.21,198.12 L374.69,198.22 L376.17,198.31 L377.65,198.39 L379.13,198.46 L380.60,198.53 L382.07,198.60 L383.54,198.65 L385.00,198.70 L386.46,198.74 L387.93,198.77 L389.41,198.79 L390.89,198.80 L392.38,198.80 L393.87,198.80 L395.36,198.79 L396.86,198.78 L398.35,198.76 L399.84,198.74 L401.33,198.71 L402.82,198.68 L404.30,198.64 L405.78,198.61 L407.25,198.57 L408.72,198.54 L410.17,198.50 L411.61,198.46 L413.05,198.43 L414.47,198.40 L415.87,198.37 L417.26,198.34 L418.64,198.32 L420.00,198.30 L421.54,198.28 L423.07,198.27 L424.59,198.25 L426.09,198.24 L427.58,198.22 L429.06,198.21 L430.52,198.20 L431.97,198.19 L433.41,198.17 L434.85,198.16 L436.27,198.14 L437.68,198.13 L439.09,198.11 L440.48,198.09 L441.87,198.07 L443.25,198.05 L444.63,198.03 L446.00,198.00 L447.46,197.97 L448.90,197.93 L450.33,197.89 L451.74,197.84 L453.13,197.79 L454.52,197.75 L455.89,197.70 L457.27,197.65 L458.64,197.60 L460.01,197.55 L461.39,197.51 L462.77,197.48 L464.17,197.44 L465.58,197.42 L467.00,197.40 L468.40,197.39 L469.80,197.38 L471.20,197.37 L472.60,197.37 L474.01,197.38 L475.41,197.38 L476.83,197.39 L478.24,197.40 L479.67,197.42 L481.11,197.44 L482.55,197.46 L484.01,197.48 L485.48,197.51 L486.97,197.54 L488.48,197.57 L490.00,197.60 L491.35,197.64 L492.71,197.69 L494.10,197.75 L495.51,197.82 L496.93,197.89 L498.36,197.98 L499.81,198.06 L501.27,198.15 L502.73,198.24 L504.19,198.33 L505.66,198.41 L507.13,198.49 L508.60,198.56 L510.06,198.63 L511.52,198.68 L512.97,198.73 L514.40,198.75 L515.83,198.77 L517.24,198.77 L518.63,198.74 L520.00,198.70 L521.54,198.63 L523.09,198.53 L524.64,198.42 L526.18,198.29 L527.72,198.14 L529.26,197.98 L530.78,197.80 L532.30,197.62 L533.80,197.43 L535.28,197.23 L536.75,197.02 L538.19,196.81 L539.61,196.61 L541.00,196.40 L542.37,196.19 L543.70,195.99 L545.00,195.80 L546.53,195.56 L548.03,195.29 L549.50,195.00 L550.93,194.70 L552.34,194.40 L553.71,194.12 L555.05,193.84 L556.35,193.60 L557.60,193.39 L558.82,193.22 L560.00,193.10 L561.46,193.01 L562.79,192.96 L564.06,192.97 L565.31,193.03 L566.61,193.14 L568.00,193.30 L569.24,193.49 L570.54,193.73 L571.88,194.02 L573.24,194.34 L574.63,194.69 L576.01,195.06 L577.37,195.44 L578.71,195.83 L580.00,196.20 L581.31,196.61 L582.61,197.05 L583.90,197.52 L585.17,197.99 L586.41,198.45 L587.64,198.88 L588.83,199.27 L590.00,199.60 L591.48,199.98 L592.91,200.33 L594.30,200.61 L595.66,200.78 L597.00,200.80 L598.25,200.69 L599.50,200.48 L600.71,200.16 L601.88,199.74 L603.00,199.20 L604.09,198.50 L605.12,197.66 L606.11,196.71 L607.06,195.68 L608.00,194.60 L608.77,193.65 L609.52,192.62 L610.25,191.54 L610.97,190.42 L611.67,189.28 L612.34,188.13 L613.00,187.00 L613.74,185.69 L614.45,184.34 L615.14,182.99 L615.79,181.63 L616.42,180.30 L617.00,179.00 L617.57,177.68 L618.09,176.39 L618.57,175.11 L619.04,173.83 L619.50,172.50 L619.90,171.30 L620.30,170.10 L620.68,168.88 L621.05,167.63 L621.42,166.34 L621.80,165.00 L622.14,163.73 L622.48,162.41 L622.82,161.04 L623.15,159.65 L623.49,158.24 L623.82,156.82 L624.16,155.40 L624.50,154.00 L624.85,152.57 L625.21,151.14 L625.56,149.70 L625.92,148.26 L626.27,146.82 L626.62,145.37 L626.97,143.93 L627.30,142.50 L627.62,141.10 L627.93,139.69 L628.23,138.29 L628.53,136.90 L628.82,135.50 L629.12,134.10 L629.41,132.70 L629.70,131.30 L629.99,129.89 L630.27,128.46 L630.54,127.03 L630.82,125.61 L631.09,124.18 L631.38,122.77 L631.68,121.38 L632.00,120.00 L632.36,118.53 L632.74,117.07 L633.12,115.63 L633.52,114.20 L633.94,112.79 L634.36,111.39 L634.80,110.00 L635.24,108.66 L635.71,107.32 L636.18,105.99 L636.67,104.68 L637.16,103.40 L637.63,102.17 L638.10,101.00 L638.60,99.73 L639.08,98.50 L639.56,97.33 L640.06,96.26 L640.60,95.30 L641.34,94.15 L642.12,93.15 L642.90,92.70 L643.98,93.26 L645.00,94.50 L645.59,95.59 L646.09,96.93 L646.55,98.42 L647.00,100.00 L647.35,101.27 L647.69,102.63 L648.01,104.07 L648.34,105.55 L648.65,107.05 L648.97,108.54 L649.30,110.00 L649.64,111.46 L649.98,112.96 L650.33,114.47 L650.68,115.95 L651.01,117.39 L651.32,118.75 L651.60,120.00 L651.90,121.33 L652.17,122.50 L652.42,123.67 L652.70,125.00 L652.94,126.25 L653.20,127.60 L653.46,129.04 L653.72,130.53 L653.98,132.04 L654.25,133.54 L654.50,135.00 L654.75,136.43 L655.00,137.86 L655.25,139.28 L655.50,140.71 L655.74,142.14 L655.97,143.57 L656.20,145.00 L656.41,146.42 L656.61,147.82 L656.81,149.22 L657.00,150.62 L657.19,152.05 L657.39,153.50 L657.60,155.00 L657.80,156.38 L658.00,157.81 L658.21,159.27 L658.42,160.76 L658.64,162.25 L658.85,163.73 L659.07,165.19 L659.29,166.62 L659.50,168.00 L659.74,169.51 L659.97,171.01 L660.20,172.48 L660.43,173.91 L660.67,175.32 L660.93,176.68 L661.20,178.00 L661.54,179.53 L661.89,181.02 L662.27,182.44 L662.67,183.78 L663.10,185.00 L663.67,186.39 L664.28,187.63 L665.00,188.60 L666.02,189.41 L667.10,189.70 L668.26,189.06 L669.30,187.80 L669.76,186.91 L670.13,185.85 L670.43,184.65 L670.71,183.36 L671.00,182.00 L671.22,180.86 L671.42,179.61 L671.61,178.29 L671.78,176.91 L671.96,175.50 L672.13,174.08 L672.30,172.67 L672.49,171.31 L672.70,170.00 L672.97,168.55 L673.26,167.18 L673.57,165.83 L673.87,164.48 L674.17,163.09 L674.45,161.61 L674.70,160.00 L674.86,158.77 L675.00,157.45 L675.13,156.05 L675.26,154.59 L675.37,153.09 L675.48,151.56 L675.58,150.01 L675.68,148.46 L675.77,146.92 L675.86,145.42 L675.95,143.96 L676.03,142.56 L676.11,141.23 L676.20,140.00 L676.32,138.44 L676.42,137.05 L676.52,135.76 L676.61,134.48 L676.71,133.15 L676.80,131.68 L676.90,130.00 L676.96,128.90 L677.02,127.70 L677.08,126.42 L677.15,125.05 L677.21,123.62 L677.27,122.13 L677.34,120.60 L677.40,119.02 L677.47,117.42 L677.53,115.81 L677.60,114.19 L677.66,112.58 L677.72,110.98 L677.79,109.40 L677.85,107.87 L677.91,106.38 L677.97,104.95 L678.03,103.58 L678.09,102.30 L678.15,101.10 L678.20,100.00 L678.29,98.34 L678.38,96.91 L678.47,95.62 L678.56,94.38 L678.64,93.09 L678.72,91.66 L678.80,90.00 L678.84,88.92 L678.89,87.79 L678.93,86.60 L678.98,85.35 L679.02,84.06 L679.06,82.73 L679.10,81.35 L679.14,79.94 L679.18,78.49 L679.22,77.02 L679.26,75.52 L679.30,74.00 L679.33,72.47 L679.37,70.92 L679.41,69.35 L679.44,67.79 L679.47,66.22 L679.51,64.65 L679.54,63.09 L679.57,61.54 L679.60,60.00 L679.63,58.61 L679.65,57.18 L679.68,55.73 L679.70,54.25 L679.73,52.75 L679.75,51.23 L679.77,49.70 L679.79,48.15 L679.82,46.58 L679.84,45.01 L679.86,43.44 L679.88,41.86 L679.90,40.29 L679.91,38.72 L679.93,37.15 L679.95,35.60 L679.97,34.06 L679.98,32.53 L680.00,31.02 L680.01,29.54 L680.03,28.08 L680.04,26.64 L680.05,25.24 L680.07,23.87 L680.08,22.54 L680.09,21.25 L680.10,20.00 L680.11,18.36 L680.13,16.78 L680.14,15.26 L680.14,13.79 L680.15,12.35 L680.16,10.95 L680.16,9.57 L680.17,8.21 L680.17,6.86 L680.18,5.51 L680.18,4.16 L680.19,2.80 L680.19,1.41 L680.20,0.00" stroke="#9d2ddc"/>
</g>
<g font-size="14.5" word-spacing="0.55"><text x="365.5" y="43.7" text-anchor="end">MSHT20 NNLO <tspan dx="0.5">α</tspan><tspan dx="0.8" dy="3" font-size="11">s</tspan><tspan dy="-3"> (m</tspan><tspan dx="0.6" dy="3" font-size="11">Z</tspan><tspan dy="-8" font-size="11">2</tspan><tspan dy="5">) = 0.<tspan class="h1">1</tspan><tspan class="h1">1</tspan>8</tspan></text><line x1="373.5" y1="38.6" x2="417" y2="38.6" stroke="#23a783" stroke-width="1.7"/><text x="365.5" y="65.7" text-anchor="end">MMHT<tspan class="h1">1</tspan>4 NNLO <tspan dx="0.5">α</tspan><tspan dx="0.8" dy="3" font-size="11">s</tspan><tspan dy="-3"> (m</tspan><tspan dx="0.6" dy="3" font-size="11">Z</tspan><tspan dy="-8" font-size="11">2</tspan><tspan dy="5">) = 0.<tspan class="h1">1</tspan><tspan class="h1">1</tspan>8</tspan></text><line x1="373.5" y1="60.6" x2="417" y2="60.6" stroke="#e63a2c" stroke-width="1.7"/><text x="365.5" y="87.6" text-anchor="end">MSHT20 NNLO <tspan dx="0.5">α</tspan><tspan dx="0.8" dy="3" font-size="11">s</tspan><tspan dy="-3"> (m</tspan><tspan dx="0.6" dy="3" font-size="11">Z</tspan><tspan dy="-8" font-size="11">2</tspan><tspan dy="5">) = 0.<tspan class="h1">1</tspan><tspan class="h1">1</tspan>8</tspan> oldparam</text><line x1="373.5" y1="82.5" x2="417" y2="82.5" stroke="#2a87c2" stroke-width="1.7"/><text x="365.5" y="109.5" text-anchor="end">MSHT20 NNLO d<tspan dx="2">/</tspan> u<tspan dx="2">6</tspan>, d<tspan dy="3" font-size="10">v</tspan><tspan dy="-3"> 6, u</tspan><tspan dy="3" font-size="10">v</tspan><tspan dy="-3"> 6, g 6, sea 6</tspan></text><line x1="373.5" y1="104.4" x2="417" y2="104.4" stroke="#9d2ddc" stroke-width="1.7"/></g>
<g stroke="#000" stroke-width="1.3"><line x1="188.9" y1="96.5" x2="191.9" y2="96.5"/><line x1="206.9" y1="96.5" x2="210.1" y2="96.5"/><line x1="108.8" y1="1.6" x2="113.3" y2="1.6"/></g>
<g font-size="18"><text x="71.80" y="415" text-anchor="middle"><tspan class="h1">1</tspan>0<tspan dy="-6.8" font-size="15.5">-5</tspan></text><text x="196.80" y="415" text-anchor="middle"><tspan class="h1">1</tspan>0<tspan dy="-6.8" font-size="15.5">-4</tspan></text><text x="321.80" y="415" text-anchor="middle"><tspan class="h1">1</tspan>0<tspan dy="-6.8" font-size="15.5">-3</tspan></text><text x="446.80" y="415" text-anchor="middle"><tspan class="h1">1</tspan>0<tspan dy="-6.8" font-size="15.5">-2</tspan></text><text x="571.80" y="415" text-anchor="middle"><tspan class="h1">1</tspan>0<tspan dy="-6.8" font-size="15.5">-<tspan class="h1">1</tspan></tspan></text></g>
<path d="M71.5,382 L71.5,20.5 L684.3,20.5 L684.3,382" fill="none" stroke="#7a7a7a" stroke-width="1.1" stroke-linejoin="round"/><line x1="71" y1="382" x2="685" y2="382" stroke="#7a7a7a" stroke-width="1.6"/>
<g font-size="14.5" text-anchor="end">
<text x="61.5" y="62"><tspan class="h1">1</tspan>.4</text>
<text x="61.5" y="134"><tspan class="h1">1</tspan>.2</text>
<text x="61.5" y="206"><tspan class="h1">1</tspan>.0</text>
<text x="61.5" y="278">0.8</text>
<text x="61.5" y="350">0.6</text>
</g>
<text x="79.3" y="16.6" font-size="16.1" xml:space="preserve">s + s  (NNLO) PDF ratio to MSHT20 <tspan dx="1.8" word-spacing="0.8">at Q</tspan><tspan dx="0.5" dy="-6.5" font-size="13.5">2</tspan><tspan dy="6.5" word-spacing="0.8"> = <tspan class="h1">1</tspan>0</tspan><tspan dx="0.3" dy="-6.5" font-size="13.5">4</tspan><tspan dy="6.5" word-spacing="0.5"> GeV</tspan><tspan dx="0.3" dy="-6.5" font-size="13.5">2</tspan></text>
<text transform="translate(378,429.6) scale(1,1.1)" font-size="18" text-anchor="middle">x</text>
<text transform="translate(14.3,201.5) rotate(-90)" font-size="19" text-anchor="middle">ratio</text>
<text x="503" y="365.3" font-size="18.6">Q<tspan dy="-7" font-size="14">2</tspan><tspan dy="7"> = <tspan class="h1">1</tspan>0000 GeV</tspan><tspan dy="-7" font-size="14">2</tspan></text>
<g fill="#000" stroke="#000" stroke-width="0.013"><path transform="translate(342.34,43.70) scale(14.50,-14.50)" d="M0.340,0 L0.340,0.700 L0.270,0.700 C0.245,0.632 0.175,0.568 0.080,0.538 L0.080,0.470 C0.150,0.488 0.212,0.522 0.255,0.560 L0.255,0 Z"/><path transform="translate(349.34,43.70) scale(14.50,-14.50)" d="M0.340,0 L0.340,0.700 L0.270,0.700 C0.245,0.632 0.175,0.568 0.080,0.538 L0.080,0.470 C0.150,0.488 0.212,0.522 0.255,0.560 L0.255,0 Z"/><path transform="translate(192.05,65.70) scale(14.50,-14.50)" d="M0.340,0 L0.340,0.700 L0.270,0.700 C0.245,0.632 0.175,0.568 0.080,0.538 L0.080,0.470 C0.150,0.488 0.212,0.522 0.255,0.560 L0.255,0 Z"/><path transform="translate(342.34,65.70) scale(14.50,-14.50)" d="M0.340,0 L0.340,0.700 L0.270,0.700 C0.245,0.632 0.175,0.568 0.080,0.538 L0.080,0.470 C0.150,0.488 0.212,0.522 0.255,0.560 L0.255,0 Z"/><path transform="translate(349.34,65.70) scale(14.50,-14.50)" d="M0.340,0 L0.340,0.700 L0.270,0.700 C0.245,0.632 0.175,0.568 0.080,0.538 L0.080,0.470 C0.150,0.488 0.212,0.522 0.255,0.560 L0.255,0 Z"/><path transform="translate(277.31,87.60) scale(14.50,-14.50)" d="M0.340,0 L0.340,0.700 L0.270,0.700 C0.245,0.632 0.175,0.568 0.080,0.538 L0.080,0.470 C0.150,0.488 0.212,0.522 0.255,0.560 L0.255,0 Z"/><path transform="translate(284.31,87.60) scale(14.50,-14.50)" d="M0.340,0 L0.340,0.700 L0.270,0.700 C0.245,0.632 0.175,0.568 0.080,0.538 L0.080,0.470 C0.150,0.488 0.212,0.522 0.255,0.560 L0.255,0 Z"/><path transform="translate(54.89,415.00) scale(18.00,-18.00)" d="M0.340,0 L0.340,0.700 L0.270,0.700 C0.245,0.632 0.175,0.568 0.080,0.538 L0.080,0.470 C0.150,0.488 0.212,0.522 0.255,0.560 L0.255,0 Z"/><path transform="translate(179.89,415.00) scale(18.00,-18.00)" d="M0.340,0 L0.340,0.700 L0.270,0.700 C0.245,0.632 0.175,0.568 0.080,0.538 L0.080,0.470 C0.150,0.488 0.212,0.522 0.255,0.560 L0.255,0 Z"/><path transform="translate(304.89,415.00) scale(18.00,-18.00)" d="M0.340,0 L0.340,0.700 L0.270,0.700 C0.245,0.632 0.175,0.568 0.080,0.538 L0.080,0.470 C0.150,0.488 0.212,0.522 0.255,0.560 L0.255,0 Z"/><path transform="translate(429.89,415.00) scale(18.00,-18.00)" d="M0.340,0 L0.340,0.700 L0.270,0.700 C0.245,0.632 0.175,0.568 0.080,0.538 L0.080,0.470 C0.150,0.488 0.212,0.522 0.255,0.560 L0.255,0 Z"/><path transform="translate(554.89,415.00) scale(18.00,-18.00)" d="M0.340,0 L0.340,0.700 L0.270,0.700 C0.245,0.632 0.175,0.568 0.080,0.538 L0.080,0.470 C0.150,0.488 0.212,0.522 0.255,0.560 L0.255,0 Z"/><path transform="translate(580.09,408.20) scale(15.50,-15.50)" d="M0.340,0 L0.340,0.700 L0.270,0.700 C0.245,0.632 0.175,0.568 0.080,0.538 L0.080,0.470 C0.150,0.488 0.212,0.522 0.255,0.560 L0.255,0 Z"/><path transform="translate(41.33,62.00) scale(14.50,-14.50)" d="M0.340,0 L0.340,0.700 L0.270,0.700 C0.245,0.632 0.175,0.568 0.080,0.538 L0.080,0.470 C0.150,0.488 0.212,0.522 0.255,0.560 L0.255,0 Z"/><path transform="translate(41.33,134.00) scale(14.50,-14.50)" d="M0.340,0 L0.340,0.700 L0.270,0.700 C0.245,0.632 0.175,0.568 0.080,0.538 L0.080,0.470 C0.150,0.488 0.212,0.522 0.255,0.560 L0.255,0 Z"/><path transform="translate(41.33,206.00) scale(14.50,-14.50)" d="M0.340,0 L0.340,0.700 L0.270,0.700 C0.245,0.632 0.175,0.568 0.080,0.538 L0.080,0.470 C0.150,0.488 0.212,0.522 0.255,0.560 L0.255,0 Z"/><path transform="translate(401.88,16.60) scale(16.10,-16.10)" d="M0.340,0 L0.340,0.700 L0.270,0.700 C0.245,0.632 0.175,0.568 0.080,0.538 L0.080,0.470 C0.150,0.488 0.212,0.522 0.255,0.560 L0.255,0 Z"/><path transform="translate(546.47,365.30) scale(18.60,-18.60)" d="M0.340,0 L0.340,0.700 L0.270,0.700 C0.245,0.632 0.175,0.568 0.080,0.538 L0.080,0.470 C0.150,0.488 0.212,0.522 0.255,0.560 L0.255,0 Z"/></g>
</svg>
</body></html>
